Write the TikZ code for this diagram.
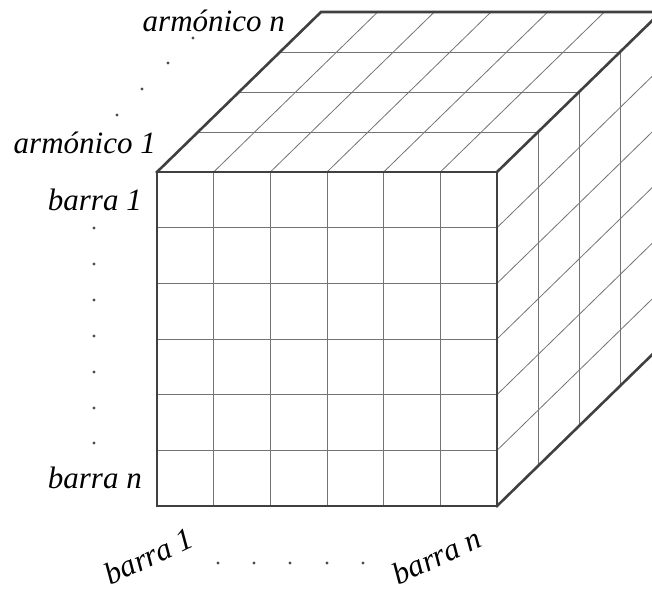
\documentclass[tikz,border=0pt]{standalone}
\usepackage{fontspec}
\setmainfont{Liberation Serif}
\begin{document}
\begin{tikzpicture}[x=1pt,y=-1pt,
  gridline/.style={line width=0.8pt, draw=black!55},
  edge/.style={line width=2.6pt, draw=black!75, line join=miter, line cap=rect},
  lbl/.style={font=\fontsize{31}{36}\selectfont\itshape, inner sep=0pt, text=black},
  dotmark/.style={fill=black!70}]
\useasboundingbox (0,0) rectangle (652,592);
\clip (0,0) rectangle (652,592);
% front grid
\foreach \i in {1,...,5} {
  \draw[gridline] ({157+340*\i/6},172) -- ({157+340*\i/6},506);
  \draw[gridline] (157,{172+334*\i/6}) -- (497,{172+334*\i/6});
}
% top face and right face
\foreach \k in {1,2,3} {
  \draw[gridline] ({157+41*\k},{172-40*\k}) -- ({497+41*\k},{172-40*\k});
  \draw[gridline] ({497+41*\k},{172-40*\k}) -- ({497+41*\k},{506-40*\k});
}
\foreach \i in {1,...,5} {
  \draw[gridline] ({157+340*\i/6},172) -- ({321+340*\i/6},12);
  \draw[gridline] (497,{172+334*\i/6}) -- (661,{12+334*\i/6});
}
% thick edges
\draw[edge] (157,172) rectangle (497,506);
\draw[edge] (157,172) -- (321,12) -- (661,12) -- (661,346) -- (497,506);
\draw[edge] (497,172) -- (661,12);
% labels
\node[lbl, anchor=base east] (an) at (285,31) {armónico n};
\node[lbl, anchor=base east] (a1) at (156,153) {armónico 1};
\node[lbl, anchor=base east] (b1) at (142,210) {barra 1};
\node[lbl, anchor=base east] (bn) at (142,488) {barra n};
\node[lbl, rotate=25] (c1) at (149,556) {barra 1};
\node[lbl, rotate=25] (cn) at (437,556) {barra n};
% dots
\foreach \p in {(193,38),(168,63),(142,89),(117,115)} \fill[dotmark] \p circle (1.7);
\foreach \y in {228,264,300,336,372,408,443} \fill[dotmark] (94,\y) circle (1.7);
\foreach \x in {218,254,290,327,363} \fill[dotmark] (\x,563) circle (1.7);
\end{tikzpicture}
\end{document}
